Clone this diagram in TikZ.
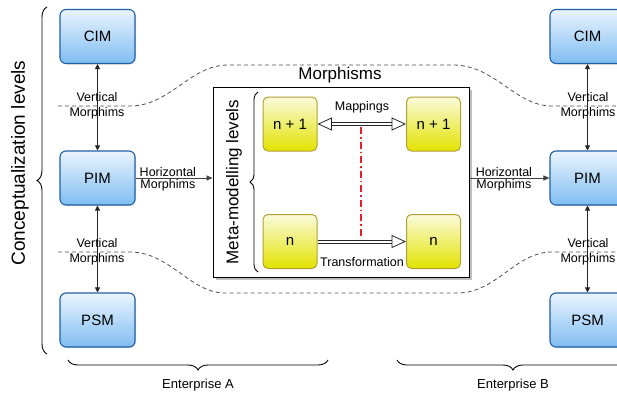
\documentclass[tikz,border=0pt]{standalone}
\usepackage{fontspec}
\setmainfont{Liberation Sans}
\usetikzlibrary{arrows.meta,decorations.pathreplacing,shadows,calc}
\definecolor{bborder}{HTML}{1F5FA6}
\definecolor{btop}{HTML}{EAF4FE}
\definecolor{bbot}{HTML}{80BDF2}
\definecolor{yborder}{HTML}{B3A038}
\definecolor{ytop}{HTML}{FAFADC}
\definecolor{ybot}{HTML}{E3E300}
\definecolor{dashgray}{HTML}{505050}
\definecolor{dotred}{HTML}{E8202A}
\tikzset{
 bluebox/.style={draw=bborder, line width=1.1pt, rounded corners=6pt, top color=btop, bottom color=bbot,
   minimum width=75pt, minimum height=54pt, font=\fontsize{15}{18}\selectfont,
   drop shadow={shadow xshift=1pt, shadow yshift=-1pt, opacity=0.25}},
 yelbox/.style={draw=yborder, line width=1pt, rounded corners=5pt, top color=ytop, bottom color=ybot,
   minimum width=54pt, minimum height=54pt, font=\fontsize{15}{18}\selectfont},
 lbl/.style={font=\fontsize{12.5}{15}\selectfont, align=center, inner sep=1pt},
 varrow/.style={{Triangle[length=5pt,width=5pt]}-{Triangle[length=5pt,width=5pt]}, line width=0.9pt, draw=black!85},
 harrow/.style={-{Triangle[length=6pt,width=5pt]}, line width=0.9pt, draw=black!75},
 dashy/.style={dash pattern=on 4pt off 3pt, line width=0.8pt, draw=dashgray},
 bracey/.style={decorate, decoration={brace, amplitude=#1}, line width=0.9pt},
 shaftline/.style={line width=0.8pt, draw=black!85},
 ohead/.style={fill=white, draw=black!85, line width=0.8pt, line join=miter},
}
\begin{document}
\begin{tikzpicture}[x=1pt,y=1pt]
\clip (0,0) rectangle (617,-396);
\fill[white] (0,0) rectangle (617,-396);

% dashed morphism region
\draw[dashy] (58,-106) -- (130,-106) .. controls (170,-106) and (190,-65) .. (228,-65)
  -- (453,-65) .. controls (495,-65) and (515,-106) .. (552,-106) -- (617,-106);
\draw[dashy] (58,-252) -- (130,-252) .. controls (170,-252) and (190,-293) .. (225,-293)
  -- (457,-293) .. controls (497,-293) and (515,-252) .. (552,-252) -- (617,-252);

% left column
\node[bluebox] (cimA) at (97.5,-36.5) {CIM};
\node[bluebox] (pimA) at (97.5,-178) {PIM};
\node[bluebox] (psmA) at (97.5,-320) {PSM};
% right column
\node[bluebox] (cimB) at (587.5,-36.5) {CIM};
\node[bluebox] (pimB) at (587.5,-178) {PIM};
\node[bluebox] (psmB) at (587.5,-320) {PSM};

\draw[varrow] (cimA.south) -- (pimA.north);
\draw[varrow] (pimA.south) -- (psmA.north);
\draw[varrow] (cimB.south) -- (pimB.north);
\draw[varrow] (pimB.south) -- (psmB.north);

\node[lbl] (vA1) at (97,-106) {Vertical\\Morphims};
\node[lbl] (vA2) at (97,-252) {Vertical\\Morphims};
\node[lbl] (vB1) at (588,-106) {Vertical\\Morphims};
\node[lbl] (vB2) at (588,-252) {Vertical\\Morphims};

% central box
\node[draw=black, line width=1pt, fill=white, minimum width=256pt, minimum height=190pt, inner sep=0pt,
  drop shadow={shadow xshift=2.5pt, shadow yshift=-2.5pt, opacity=0.5}] (meta) at (341,-182) {};
\node[font=\fontsize{17}{20}\selectfont] (morph) at (340,-75) {Morphisms};

\draw[harrow] (pimA.east) -- (pimA.east -| meta.west)
  node[lbl, pos=0.42, above] {Horizontal} node[lbl, pos=0.42, below] {Morphims};
\draw[harrow] (meta.east |- pimB.west) -- (pimB.west)
  node[lbl, pos=0.43, above] {Horizontal} node[lbl, pos=0.43, below] {Morphims};

\node[yelbox] (m1L) at (290,-124) {n + 1};
\node[yelbox] (m1R) at (433.5,-124) {n + 1};
\node[yelbox] (m0L) at (290,-241.5) {n};
\node[yelbox] (m0R) at (433.5,-241.5) {n};

\node[rotate=90, font=\fontsize{17}{20}\selectfont] (mml) at (234,-182) {Meta-modelling levels};
\draw[bracey=8pt] (258,-272) -- (258,-92);

% Mappings double arrow
\draw[shaftline] ($(m1L.east)+(12,1.6)$) -- ($(m1R.west)+(-12,1.6)$);
\draw[shaftline] ($(m1L.east)+(12,-1.6)$) -- ($(m1R.west)+(-12,-1.6)$);
\draw[ohead] ($(m1L.east)+(1,0)$) -- ++(13,6) -- ++(0,-12) -- cycle;
\draw[ohead] ($(m1R.west)+(-1,0)$) -- ++(-13,6) -- ++(0,-12) -- cycle;
\node[lbl] (map) at (362,-107) {Mappings};

% Transformation arrow
\draw[shaftline] ($(m0L.east)+(0,1.6)$) -- ($(m0R.west)+(-12,1.6)$);
\draw[shaftline] ($(m0L.east)+(0,-1.6)$) -- ($(m0R.west)+(-12,-1.6)$);
\draw[ohead] ($(m0R.west)+(-1,0)$) -- ++(-13,6) -- ++(0,-12) -- cycle;
\node[lbl] (trf) at (362,-262) {Transformation};

% red dash-dot
\coordinate (rtop) at ($(m1L.east)!0.49!(m1R.west)+(0,-3)$);
\coordinate (rbot) at ($(m0L.east)!0.49!(m0R.west)+(0,5)$);
\draw[dotred, line width=1.3pt, dash pattern=on 7pt off 3pt on 1.5pt off 3pt] (rtop) -- (rbot);

% conceptualization brace
\draw[bracey=10pt] (47,-354) -- (47,-7);
\node[rotate=90, font=\fontsize{19}{22}\selectfont] (cl) at (20,-163) {Conceptualization levels};

% enterprise braces
\draw[bracey=10pt] (328,-360) -- (68,-360);
\draw[bracey=10pt] (629,-360) -- (397,-360);
\node[font=\fontsize{13}{15}\selectfont] (entA) at (198,-385) {Enterprise A};
\node[font=\fontsize{13}{15}\selectfont] (entB) at (513,-385) {Enterprise B};
\end{tikzpicture}
\end{document}
